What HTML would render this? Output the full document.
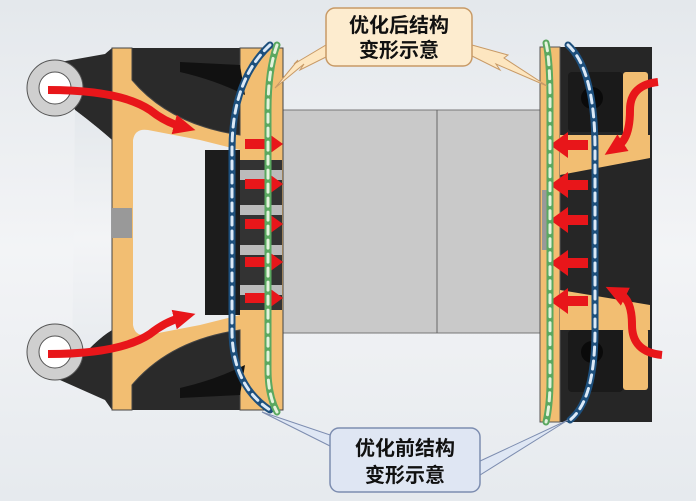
<!DOCTYPE html>
<html><head><meta charset="utf-8"><style>
html,body{margin:0;padding:0;width:696px;height:501px;overflow:hidden;background:#eef0f2}
svg{display:block}
text{font-family:"Liberation Sans","Noto Sans CJK SC",sans-serif;font-size:20px;fill:#111;font-weight:bold}
</style></head><body>
<svg width="696" height="501" viewBox="0 0 696 501">
<defs>
<linearGradient id="bg" x1="0" y1="0" x2="0" y2="1"><stop offset="0" stop-color="#e4e8ec"/><stop offset=".5" stop-color="#f3f4f6"/><stop offset="1" stop-color="#e6eaee"/></linearGradient>
<marker id="ah" markerUnits="userSpaceOnUse" markerWidth="24" markerHeight="24" refX="6" refY="12" orient="auto"><path d="M0,2L22,12L0,22z" fill="#e8161a"/></marker>
</defs>
<rect width="696" height="501" fill="url(#bg)"/>
<rect x="283" y="110" width="260" height="223" fill="#c9c9c9" stroke="#777" stroke-width="1"/>
<line x1="437" y1="110" x2="437" y2="333" stroke="#666"/>
<path d="M60,62 L105,54 L112,48 L283,48 L283,410 L112,410 L105,400 L60,380 L72,368 Q95,340 112,330 L112,140 Q95,125 75,110 Z" fill="#2a2a2a"/>
<path d="M75,110 Q95,125 112,140 L112,330 Q95,340 72,368" fill="url(#bg)"/>
<circle cx="55" cy="88" r="28" fill="#cfcfcf" stroke="#555"/><circle cx="55" cy="88" r="16" fill="#fff" stroke="#555"/>
<circle cx="55" cy="352" r="28" fill="#cfcfcf" stroke="#555"/><circle cx="55" cy="352" r="16" fill="#fff" stroke="#555"/>
<path d="M112,48 L132,48 L132,80 Q170,125 240,135 L240,48 L283,48 L283,410 L240,410 L240,330 Q170,340 132,385 L132,410 L112,410 Z" fill="#f2be72" stroke="#444" stroke-width="1"/>
<path d="M133,140 Q135,128 148,130 L200,140 L240,150 L240,315 L200,325 L148,335 Q135,337 133,325 Z" fill="#eceef0"/>
<rect x="205" y="150" width="35" height="165" fill="#1c1c1c"/>
<rect x="240" y="160" width="42" height="150" fill="#333"/>
<rect x="240" y="170" width="42" height="10" fill="#bbb"/><rect x="240" y="205" width="42" height="10" fill="#bbb"/><rect x="240" y="245" width="42" height="10" fill="#bbb"/><rect x="240" y="285" width="42" height="10" fill="#bbb"/>
<rect x="112" y="208" width="20" height="30" fill="#999"/>
<path d="M180,62 L240,65 L245,95 Q215,80 180,72 Z" fill="#111"/>
<path d="M180,398 L240,395 L245,365 Q215,380 180,388 Z" fill="#111"/>
<rect x="540" y="47" width="112" height="375" fill="#262626"/>
<rect x="540" y="47" width="20" height="375" fill="#f2be72" stroke="#555"/>
<path d="M560,135 L650,135 L650,158 L560,175 Z" fill="#f2be72"/>
<path d="M560,290 L650,305 L650,330 L560,330 Z" fill="#f2be72"/>
<rect x="623" y="72" width="25" height="66" rx="3" fill="#f2be72"/>
<rect x="623" y="328" width="25" height="62" rx="3" fill="#f2be72"/>
<rect x="568" y="72" width="55" height="60" rx="4" fill="#1a1a1a"/>
<rect x="568" y="330" width="55" height="62" rx="4" fill="#1a1a1a"/>
<circle cx="592" cy="98" r="11" fill="#0a0a0a"/><circle cx="592" cy="352" r="11" fill="#0a0a0a"/>
<rect x="542" y="190" width="6" height="60" fill="#999"/>
<g stroke="#e8161a" stroke-width="8" fill="none" marker-end="url(#ah)">
<path d="M48,90 Q120,90 150,110 Q165,122 180,126"/>
<path d="M48,354 Q120,354 150,334 Q165,322 180,318"/>
<path d="M658,82 Q630,85 630,110 Q630,138 618,146"/>
<path d="M662,355 Q632,352 632,325 Q632,300 620,294"/>
</g>
<g fill="#e8161a">
<path d="M245,139h20v-8l18,13l-18,13v-8h-20z"/>
<path d="M245,179h20v-8l18,13l-18,13v-8h-20z"/>
<path d="M245,219h20v-8l18,13l-18,13v-8h-20z"/>
<path d="M245,257h20v-8l18,13l-18,13v-8h-20z"/>
<path d="M245,293h20v-8l18,13l-18,13v-8h-20z"/>
<path d="M588,140h-20v-8l-18,13l18,13v-8h20z"/>
<path d="M588,180h-20v-8l-18,13l18,13v-8h20z"/>
<path d="M588,215h-20v-8l-18,13l18,13v-8h20z"/>
<path d="M588,258h-20v-8l-18,13l18,13v-8h20z"/>
<path d="M588,296h-20v-8l-18,13l18,13v-8h20z"/>
</g>
<g fill="none" stroke-linecap="round">
<path d="M270,45 Q232,80 232,150 L232,330 Q232,385 270,410" stroke="#1d4f7c" stroke-width="7"/>
<path d="M270,45 Q232,80 232,150 L232,330 Q232,385 270,410" stroke="#dbe9f7" stroke-width="3" stroke-dasharray="8,6"/>
<path d="M277,45 Q268,70 268,110 L268,370 Q268,395 277,412" stroke="#5aa860" stroke-width="7"/>
<path d="M277,45 Q268,70 268,110 L268,370 Q268,395 277,412" stroke="#e4f3dc" stroke-width="3" stroke-dasharray="8,6"/>
<path d="M568,45 Q595,70 595,150 L595,330 Q595,400 570,420" stroke="#1d4f7c" stroke-width="7"/>
<path d="M568,45 Q595,70 595,150 L595,330 Q595,400 570,420" stroke="#dbe9f7" stroke-width="3" stroke-dasharray="8,6"/>
<path d="M546,43 Q550,60 550,100 L550,380 Q550,405 546,422" stroke="#5aa860" stroke-width="7"/>
<path d="M546,43 Q550,60 550,100 L550,380 Q550,405 546,422" stroke="#e4f3dc" stroke-width="3" stroke-dasharray="8,6"/>
</g>
<path d="M330,55 L300,70 L304,64 L275,88 L298,60 L294,64 L326,45 Z" fill="#fde6c0" stroke="#c89a66"/>
<path d="M470,55 L500,70 L496,64 L547,86 L504,58 L508,55 L472,45 Z" fill="#fde6c0" stroke="#c89a66"/>
<rect x="326" y="8" width="146" height="58" rx="9" fill="#fdeccf" stroke="#c89a66" stroke-width="1.5"/>
<text x="399" y="32" text-anchor="middle">优化后结构</text>
<text x="399" y="57" text-anchor="middle">变形示意</text>
<path d="M338,450 L262,412 L345,440 Z" fill="#dfe7f4" stroke="#7d8db0"/>
<path d="M478,462 L568,420 L480,475 Z" fill="#dfe7f4" stroke="#7d8db0"/>
<rect x="330" y="428" width="150" height="64" rx="9" fill="#dfe6f3" stroke="#7d8db0" stroke-width="1.5"/>
<text x="405" y="455" text-anchor="middle">优化前结构</text>
<text x="405" y="482" text-anchor="middle">变形示意</text>
</svg>
</body></html>
